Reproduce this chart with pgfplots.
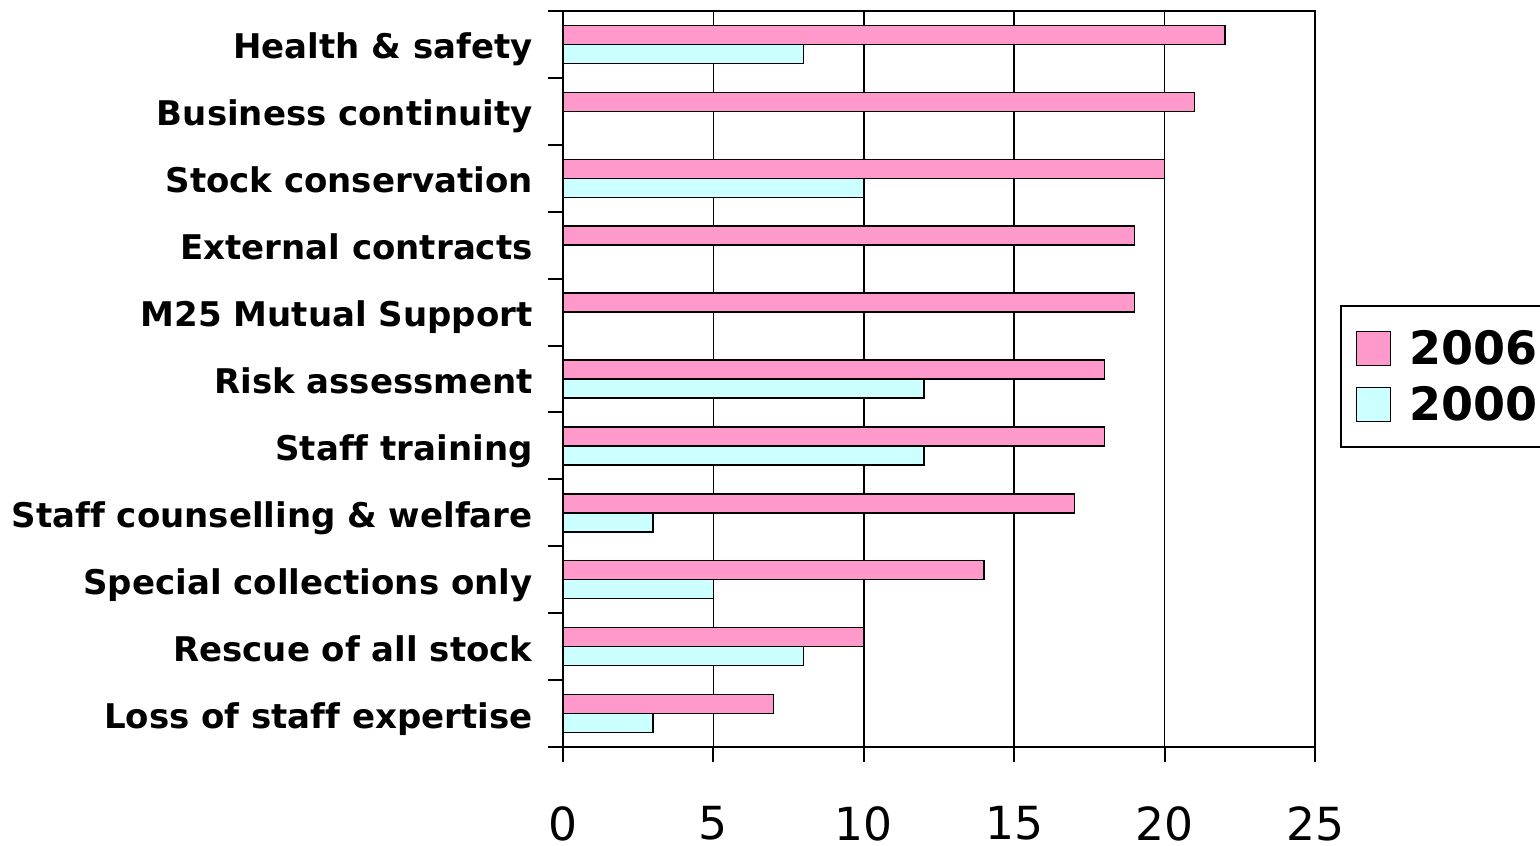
\documentclass[border=0pt]{standalone}
\usepackage{fontspec}
\setmainfont[Ligatures={NoCommon}]{DejaVu Sans}
\usepackage{pgfplots}
\pgfplotsset{compat=1.18}
\definecolor{pinkbar}{RGB}{255,153,204}
\definecolor{cyanbar}{RGB}{204,255,255}
\begin{document}
\begin{tikzpicture}
\useasboundingbox (0,0) rectangle (770pt,422.5pt);
\begin{axis}[
  at={(281.5pt,49pt)}, anchor=south west,
  scale only axis, width=376pt, height=368pt,
  xbar, bar width=9.5pt,
  xmin=0, xmax=25, ymin=-0.5, ymax=10.5,
  xtick={0,5,10,15,20,25},
  xtick pos=bottom, ytick pos=left,
  xmajorgrids, grid style={black, line width=0.75pt},
  axis line style={black, line width=1pt},
  tick style={black, line width=1pt},
  tick align=outside,
  major tick length=7.5pt,
  /pgf/number format/assume math mode=true,
  xticklabel style={font=\fontsize{22.8}{27}\selectfont, inner sep=0pt, anchor=north, yshift=-22pt},
  ytick={-0.5,0.5,1.5,2.5,3.5,4.5,5.5,6.5,7.5,8.5,9.5,10.5},
  yticklabels={,,,,,,,,,,,,},
  extra y ticks={0,1,2,3,4,5,6,7,8,9,10},
  extra y tick labels={Loss of staff expertise, Rescue of all stock, Special collections only, Staff counselling \& welfare, Staff training, Risk assessment, M25 Mutual Support, External contracts, Stock conservation, Business continuity, Health \& safety},
  extra y tick style={major tick length=0pt, yticklabel style={font=\bfseries\fontsize{17}{20}\selectfont, inner sep=0pt, anchor=base east, xshift=-15pt, yshift=-7.25pt}},
  legend style={at={(1.0332,0.6005)}, anchor=north west, draw=black, line width=1pt,
    inner xsep=7.5pt, inner ysep=12pt, row sep=9.5pt, column sep=9pt,
    font=\bfseries\fontsize{23}{27}\selectfont, nodes={inner sep=0pt}},
  legend cell align=left,
  legend image code/.code={\draw[#1, line width=0.75pt] (0pt,-8.5pt) rectangle (17pt,8.5pt);},
]
\addplot[fill=pinkbar, draw=black, line width=0.75pt, bar shift=4.75pt] coordinates {
  (7,0) (10,1) (14,2) (17,3) (18,4) (18,5) (19,6) (19,7) (20,8) (21,9) (22,10)};
\addlegendentry{2006}
\addplot[fill=cyanbar, draw=black, line width=0.75pt, bar shift=-4.75pt] coordinates {
  (3,0) (8,1) (5,2) (3,3) (12,4) (12,5) (10,8) (8,10)};
\addlegendentry{2000}
\end{axis}
\end{tikzpicture}
\end{document}
